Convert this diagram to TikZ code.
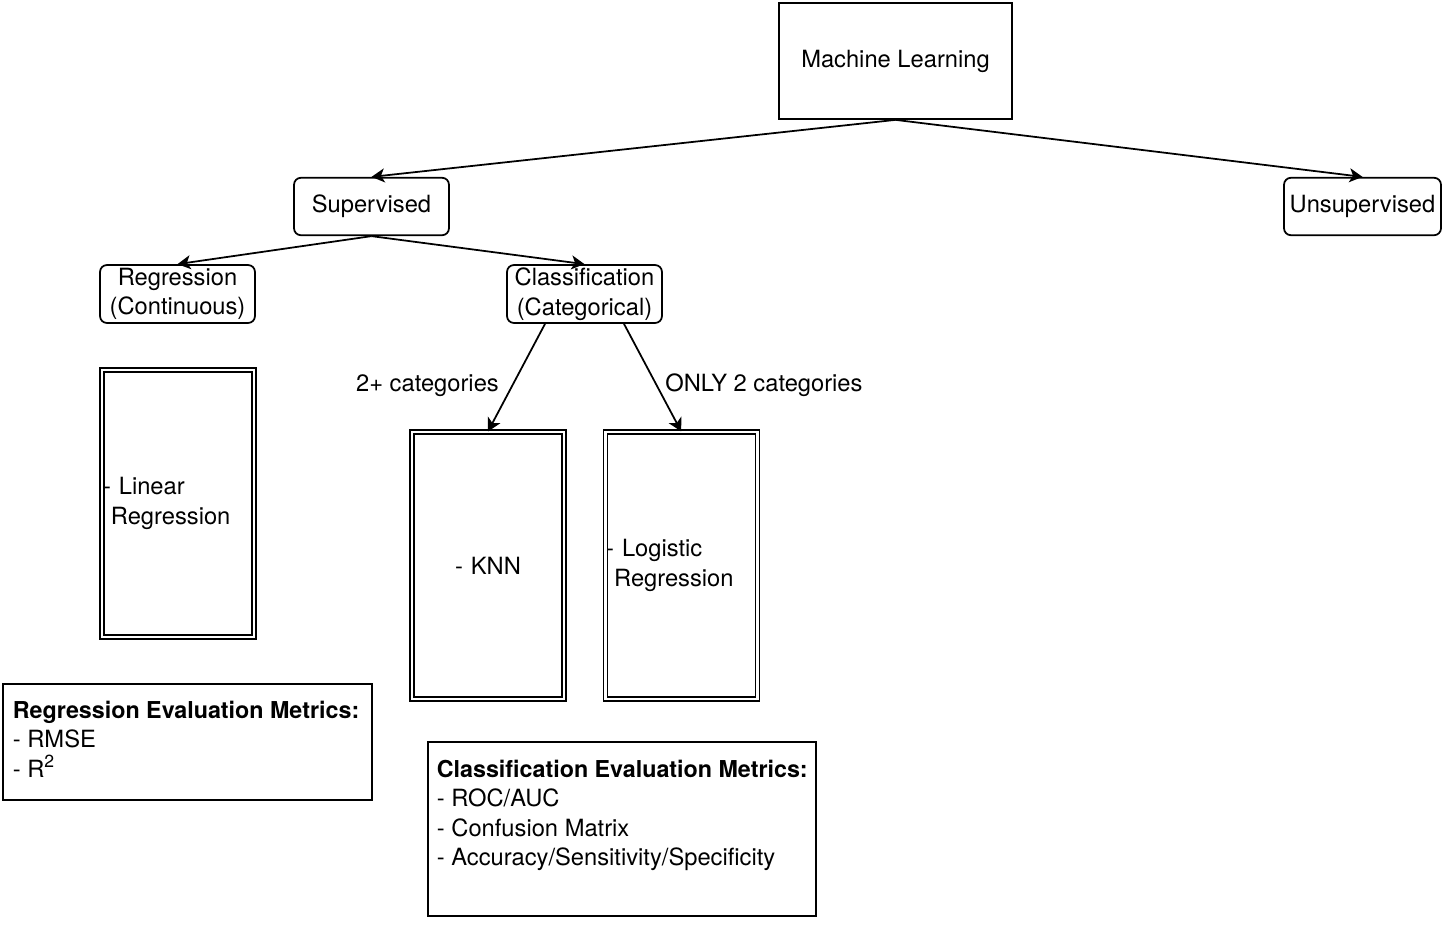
\documentclass[tikz,border=0pt]{standalone}
\usepackage{fontspec}
\setmainfont{TeX Gyre Heros}
\usetikzlibrary{arrows.meta,positioning,calc}

\newcommand{\mtitle}[1]{{\fontsize{13.25}{16.8}\selectfont\textbf{#1}}}

\begin{document}
\begin{tikzpicture}[x=0.02cm, y=-0.02cm, line width=1pt, >={Stealth[length=0.26cm,width=0.28cm,inset=0.07cm]}, font=\fontsize{13.5}{16.8}\selectfont]
\tikzstyle{plain}=[draw=black,fill=white,rectangle]
\tikzstyle{cat}=[plain,rounded corners=0.14cm,align=center,inner sep=0pt,minimum width=3.1cm,minimum height=1.15cm]
\tikzstyle{algo}=[draw=black,double,double distance=1.5pt,line width=0.7pt,minimum width=3.04cm,minimum height=5.34cm,text width=3.0cm,inner xsep=0pt,align=left]
\tikzstyle{metric}=[anchor=north west,align=left,inner sep=0pt]
\useasboundingbox (0,0) rectangle (1443,937);

\node[plain, minimum width=4.66cm, minimum height=2.32cm] (ml) at (895.5,61) {Machine Learning};
\node[cat]                        (sup)   at (371.5,206.5)  {Supervised};
\node[cat, minimum width=3.14cm]  (unsup) at (1362.5,206.5) {Unsupervised};
\node[cat, minimum height=1.16cm] (reg)   at (177.5,294)    {Regression\\(Continuous)};
\node[cat, minimum height=1.16cm] (cls)   at (584.5,294)    {Classification\\(Categorical)};

\node[algo] (lin)  at (178,503.5) {- Linear\\\ Regression};
\node[algo, align=center] (knn)  at (488,565.5) {- KNN};
\node[algo] (logi) [right=0.80cm of knn] {- Logistic\\\ Regression};

% evaluation metrics
\node[plain, minimum width=7.38cm, minimum height=2.32cm] (regM) at (187.5,742) {};
\node[metric] (regT) at (12,700) {\mtitle{Regression Evaluation Metrics:}\\- RMSE\\- R\raisebox{0.42em}{\fontsize{10}{10}\selectfont 2}};
\node[plain, minimum width=7.76cm, minimum height=3.48cm] (clsM) at (622,829) {};
\node[metric] (clsT) at (436,759) {\mtitle{Classification Evaluation Metrics:}\\- ROC/AUC\\- Confusion Matrix\\- Accuracy/Sensitivity/Specificity};

\path[->]
(ml.south)  edge (sup.north)
            edge (unsup.north)
(sup.south) edge (reg.north)
            edge (cls.north)
([xshift=-0.79cm]cls.south) edge node[left, pos=0.57, xshift=-0.14cm] {2+ categories}     (knn.north)
([xshift=0.79cm]cls.south)  edge node[right, pos=0.57, xshift=0.04cm] {ONLY 2 categories} (logi.north);
\end{tikzpicture}
\end{document}
